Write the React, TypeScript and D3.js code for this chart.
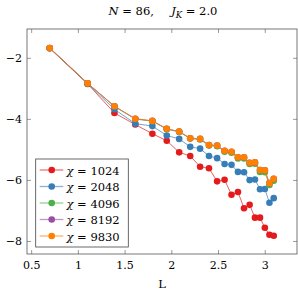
import * as d3 from "d3";
import React, { useRef, useEffect } from "react";

// L = ln(l), l = 2..22
const L = [0.693, 1.099, 1.386, 1.609, 1.792, 1.946, 2.079, 2.197, 2.303, 2.398, 2.485,
  2.565, 2.639, 2.708, 2.773, 2.833, 2.890, 2.944, 2.996, 3.045, 3.091];

const chi1024 = [-1.67, -2.84, -3.79, -4.17, -4.47, -4.70, -5.08, -5.20, -5.55, -5.60, -6.03,
  -5.98, -6.47, -6.38, -6.91, -6.80, -7.22, -7.22, -7.55, -7.78, -7.81];
const chi2048 = [-1.67, -2.83, -3.67, -4.14, -4.22, -4.53, -4.64, -4.90, -4.96, -5.20, -5.27,
  -5.46, -5.49, -5.72, -5.73, -5.99, -5.97, -6.29, -6.28, -6.73, -6.58];
const chi4096 = [-1.66, -2.82, -3.58, -3.99, -4.06, -4.32, -4.41, -4.63, -4.66, -4.86, -4.88,
  -5.06, -5.09, -5.28, -5.28, -5.46, -5.45, -5.72, -5.73, -6.15, -6.01];
const chi8192 = [-1.66, -2.82, -3.57, -3.98, -4.05, -4.31, -4.40, -4.62, -4.64, -4.84, -4.86,
  -5.03, -5.06, -5.24, -5.24, -5.42, -5.41, -5.66, -5.67, -6.09, -5.95];
const chi9830 = [-1.66, -2.82, -3.57, -3.98, -4.05, -4.31, -4.40, -4.62, -4.64, -4.84, -4.86,
  -5.03, -5.06, -5.24, -5.24, -5.42, -5.41, -5.66, -5.67, -6.09, -5.95];

const seriesNames = ["1024", "2048", "4096", "8192", "9830"];
const seriesValues = [chi1024, chi2048, chi4096, chi8192, chi9830];
const colors = ["#e41a1c", "#377eb8", "#4daf4a", "#984ea3", "#ff7f00"];

const xTicks = [0.5, 1, 1.5, 2, 2.5, 3];
const yTicks = [-2, -4, -6, -8];

export default function App() {
  const svgRef = useRef(null);

  useEffect(() => {
    const w = 298;
    const h = 292;
    const left = 27, right = 297, top = 29, bottom = 254;
    const font = "DejaVu Serif";

    const svg = d3.select(svgRef.current)
      .attr("width", w)
      .attr("height", h)
      .attr("font-family", font);
    svg.selectAll("*").remove();

    const x = d3.scaleLinear().domain([0.45, 3.34]).range([left, right]);
    const y = d3.scaleLinear().domain([-8.41, -1.04]).range([bottom, top]);

    // title
    const title = svg.append("text")
      .attr("x", 163).attr("y", 15)
      .attr("text-anchor", "middle")
      .attr("font-size", 11.5);
    title.append("tspan").attr("font-style", "italic").text("N");
    title.append("tspan").text(" = 86,\u2003\u2002");
    title.append("tspan").attr("font-style", "italic").text("J");
    title.append("tspan").attr("font-style", "italic").attr("font-size", 8.5)
      .attr("dy", 2.5).text("K");
    title.append("tspan").attr("dy", -2.5).text(" = 2.0");

    const frameColor = "#555";
    // ticks on all sides, pointing inward
    const tl = 4;
    xTicks.forEach(t => {
      svg.append("line").attr("x1", x(t)).attr("x2", x(t)).attr("y1", bottom).attr("y2", bottom - tl)
        .attr("stroke", frameColor).attr("stroke-width", 0.6);
      svg.append("line").attr("x1", x(t)).attr("x2", x(t)).attr("y1", top).attr("y2", top + tl)
        .attr("stroke", frameColor).attr("stroke-width", 0.6);
      svg.append("text").attr("x", x(t)).attr("y", 269)
        .attr("text-anchor", "middle")
        .attr("font-size", 11)
        .text(d3.format("")(t));
    });
    yTicks.forEach(t => {
      svg.append("line").attr("x1", left).attr("x2", left + tl).attr("y1", y(t)).attr("y2", y(t))
        .attr("stroke", frameColor).attr("stroke-width", 0.6);
      svg.append("line").attr("x1", right).attr("x2", right - tl).attr("y1", y(t)).attr("y2", y(t))
        .attr("stroke", frameColor).attr("stroke-width", 0.6);
      svg.append("text").attr("x", 22).attr("y", y(t) + 4)
        .attr("text-anchor", "end")
        .attr("font-size", 11)
        .text("\u2212" + Math.abs(t));
    });

    svg.append("text").attr("x", (left + right) / 2).attr("y", 288)
      .attr("text-anchor", "middle")
      .attr("font-size", 11.5)
      .text("L");

    const line = d3.line<number>()
      .x((d, i) => x(L[i]))
      .y(d => y(d));

    seriesValues.forEach((vals, k) => {
      const g = svg.append("g");
      g.append("path")
        .attr("d", line(vals))
        .attr("fill", "none")
        .attr("stroke", colors[k])
        .attr("stroke-opacity", 0.7)
        .attr("stroke-width", 1);
      g.selectAll("circle")
        .data(vals)
        .join("circle")
        .attr("cx", (d, i) => x(L[i]))
        .attr("cy", d => y(d))
        .attr("r", 3.3)
        .attr("fill", colors[k]);
    });

    // frame
    svg.append("rect")
      .attr("x", left).attr("y", top)
      .attr("width", right - left).attr("height", bottom - top)
      .attr("fill", "none").attr("stroke", frameColor).attr("stroke-width", 0.8);

    // legend
    const lg = svg.append("g");
    lg.append("rect")
      .attr("x", 35.7).attr("y", 159)
      .attr("width", 92.6).attr("height", 88)
      .attr("fill", "white").attr("stroke", "#444").attr("stroke-width", 0.8);
    seriesNames.forEach((name, k) => {
      const yy = 170 + k * 16.5;
      lg.append("line").attr("x1", 39.7).attr("x2", 63.3).attr("y1", yy).attr("y2", yy)
        .attr("stroke", colors[k]).attr("stroke-opacity", 0.6).attr("stroke-width", 1.3);
      lg.append("circle").attr("cx", 51.7).attr("cy", yy).attr("r", 3.3).attr("fill", colors[k]);
      const t = lg.append("text").attr("x", 66.5).attr("y", yy + 4.5)
        .attr("font-size", 11.5);
      t.append("tspan").attr("font-style", "italic").text("\u03c7");
      t.append("tspan").text(" = " + name);
    });
  }, []);

  return (
    <div style={{ position: "absolute", left: 0, top: 0 }}>
      <svg ref={svgRef}></svg>
    </div>
  );
}
